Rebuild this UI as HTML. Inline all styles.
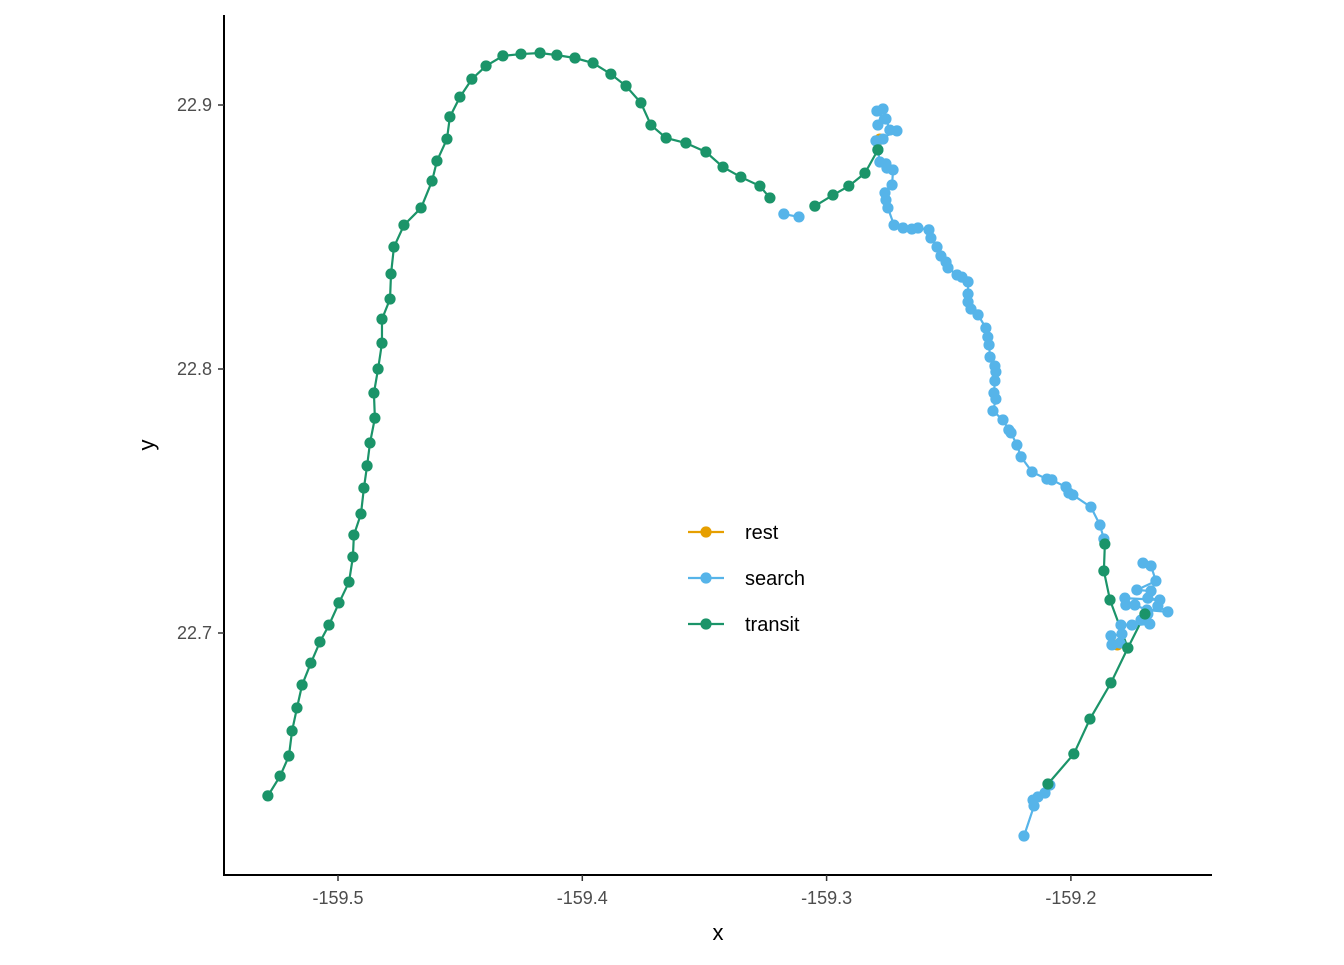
<!DOCTYPE html>
<html><head><meta charset="utf-8">
<style>
body{margin:0;background:#fff;}
svg text{font-family:"Liberation Sans",sans-serif;}
</style></head>
<body>
<svg id="chart" width="1344" height="960" viewBox="0 0 1344 960" xmlns="http://www.w3.org/2000/svg">
<rect width="1344" height="960" fill="#fff"/>
<g id="lines"></g><g id="points"></g>
<line x1="224" y1="15" x2="224" y2="876" stroke="#000" stroke-width="2"/>
<line x1="223" y1="875" x2="1212" y2="875" stroke="#000" stroke-width="2"/>
<g id="axes"></g>
<text x="718" y="940" font-size="22" text-anchor="middle">x</text>
<text x="0" y="0" font-size="22" text-anchor="middle" transform="translate(154,445) rotate(-90)">y</text>
<g id="legend"></g>
</svg>
<script>
const xTicks=[-159.5,-159.4,-159.3,-159.2];
const yTicks=[22.7,22.8,22.9];
const xTickLabels=["-159.5","-159.4","-159.3","-159.2"];
const yTickLabels=["22.7","22.8","22.9"];
const states=["rest","search","transit"];
const colors={rest:"#E69F00",search:"#56B4E9",transit:"#1b9469"};
const transitRuns=[
 [[-159.5287,22.6383],[-159.5237,22.6458],[-159.5201,22.6534],[-159.5188,22.6629],[-159.5168,22.6716],[-159.5147,22.6803],[-159.5111,22.6886],[-159.5074,22.6966],[-159.5037,22.7030],[-159.4996,22.7114],[-159.4955,22.7193],[-159.4939,22.7288],[-159.4935,22.7371],[-159.4906,22.7451],[-159.4894,22.7549],[-159.4881,22.7633],[-159.4869,22.7720],[-159.4849,22.7814],[-159.4853,22.7909],[-159.4836,22.8000],[-159.4820,22.8098],[-159.4820,22.8189],[-159.4787,22.8265],[-159.4783,22.8360],[-159.4771,22.8462],[-159.4730,22.8545],[-159.4660,22.8610],[-159.4615,22.8712],[-159.4595,22.8788],[-159.4554,22.8871],[-159.4542,22.8955],[-159.4501,22.9030],[-159.4452,22.9098],[-159.4394,22.9148],[-159.4325,22.9186],[-159.4251,22.9193],[-159.4173,22.9197],[-159.4104,22.9189],[-159.4030,22.9178],[-159.3956,22.9159],[-159.3883,22.9117],[-159.3821,22.9072],[-159.3760,22.9008],[-159.3719,22.8924],[-159.3657,22.8875],[-159.3576,22.8856],[-159.3494,22.8822],[-159.3424,22.8765],[-159.3351,22.8727],[-159.3273,22.8693],[-159.3232,22.8648]],
 [[-159.3048,22.8617],[-159.2974,22.8659],[-159.2909,22.8693],[-159.2843,22.8742],[-159.2790,22.8830]],
 [[-159.1861,22.7337],[-159.1865,22.7235],[-159.1840,22.7125],[-159.1767,22.6943]],
 [[-159.1697,22.7072],[-159.1767,22.6943],[-159.1836,22.6811],[-159.1922,22.6674],[-159.1988,22.6542],[-159.2094,22.6428]]
];
const searchRuns=[
 [[-159.3175,22.8587],[-159.3113,22.8576]],
 [[-159.2794,22.8977],[-159.2769,22.8985],[-159.2790,22.8924],[-159.2757,22.8947],[-159.2741,22.8905],[-159.2712,22.8902],[-159.2798,22.8864],[-159.2769,22.8871],[-159.2790,22.8830],[-159.2782,22.8784],[-159.2757,22.8777],[-159.2753,22.8761],[-159.2728,22.8754],[-159.2732,22.8697],[-159.2761,22.8667],[-159.2757,22.8640],[-159.2749,22.8610],[-159.2724,22.8545],[-159.2687,22.8534],[-159.2651,22.8530],[-159.2626,22.8534],[-159.2581,22.8527],[-159.2573,22.8496],[-159.2548,22.8462],[-159.2532,22.8428],[-159.2511,22.8405],[-159.2503,22.8383],[-159.2466,22.8356],[-159.2446,22.8348],[-159.2421,22.8330],[-159.2421,22.8284],[-159.2421,22.8254],[-159.2409,22.8227],[-159.2380,22.8205],[-159.2348,22.8155],[-159.2340,22.8121],[-159.2335,22.8091],[-159.2331,22.8045],[-159.2311,22.8011],[-159.2307,22.7989],[-159.2311,22.7955],[-159.2315,22.7909],[-159.2307,22.7886],[-159.2319,22.7841],[-159.2278,22.7807],[-159.2254,22.7769],[-159.2245,22.7758],[-159.2221,22.7712],[-159.2204,22.7667],[-159.2159,22.7610],[-159.2098,22.7583],[-159.2078,22.7580],[-159.2020,22.7553],[-159.2008,22.7530],[-159.1992,22.7523],[-159.1918,22.7477],[-159.1881,22.7409],[-159.1865,22.7356]],
 [[-159.1705,22.7265],[-159.1672,22.7254],[-159.1652,22.7197],[-159.1730,22.7163],[-159.1672,22.7159],[-159.1685,22.7132],[-159.1636,22.7125],[-159.1779,22.7132],[-159.1775,22.7106],[-159.1738,22.7106],[-159.1689,22.7087],[-159.1603,22.7080],[-159.1644,22.7102],[-159.1685,22.7072],[-159.1713,22.7049],[-159.1677,22.7034],[-159.1750,22.7030],[-159.1795,22.7030],[-159.1791,22.6996],[-159.1836,22.6989],[-159.1832,22.6955],[-159.1799,22.6962]],
 [[-159.2086,22.6424],[-159.2106,22.6394],[-159.2135,22.6379],[-159.2155,22.6367],[-159.2151,22.6345],[-159.2192,22.6231]]
];
const restPoints=[[-159.2782,22.8871],[-159.1810,22.6955]];

const NS="http://www.w3.org/2000/svg";
function sx(v){return 338+(v+159.5)*2443;}
function sy(v){return 105+(22.9-v)*2640;}
const L=document.getElementById('lines'),P=document.getElementById('points'),A=document.getElementById('axes'),G=document.getElementById('legend');
function mk(t,a,p){const e=document.createElementNS(NS,t);for(const k in a)e.setAttribute(k,a[k]);p.appendChild(e);return e;}
function drawRuns(runs,st){
 runs.forEach(r=>{
  const e=mk('polyline',{points:r.map(d=>sx(d[0])+','+sy(d[1])).join(' '),fill:'none',stroke:colors[st],'stroke-width':2.2},L);
  
  
 });
}
function drawPts(pts,st){
 pts.forEach(d=>{
  const c=mk('circle',{cx:sx(d[0]),cy:sy(d[1]),r:5.6,fill:colors[st]},P);
  
  
 });
}
drawRuns(searchRuns,'search');drawRuns(transitRuns,'transit');
drawPts(restPoints,'rest');
searchRuns.forEach(r=>drawPts(r,'search'));
transitRuns.forEach(r=>drawPts(r,'transit'));
xTicks.forEach((v,i)=>{
 const t=mk('line',{x1:sx(v),x2:sx(v),y1:875,y2:881,stroke:'#333','stroke-width':1.5},A);
 
 
 const tx=mk('text',{x:sx(v),y:904,'font-size':18,'text-anchor':'middle',fill:'#4d4d4d'},A);
 tx.textContent=xTickLabels[i];
 
 
});
yTicks.forEach((v,i)=>{
 const t=mk('line',{x1:218,x2:224,y1:sy(v),y2:sy(v),stroke:'#333','stroke-width':1.5},A);
 
 
 const tx=mk('text',{x:212,y:sy(v)+6,'font-size':18,'text-anchor':'end',fill:'#4d4d4d'},A);
 tx.textContent=yTickLabels[i];
 
 
});
states.forEach((s,i)=>{
 const y=532+i*46;
 const g=mk('g',{},G);
 
 
 mk('line',{x1:688,x2:724,y1:y,y2:y,stroke:colors[s],'stroke-width':2.2},g);
 mk('circle',{cx:706,cy:y,r:5.6,fill:colors[s]},g);
 const t=mk('text',{x:745,y:y+7,'font-size':20,fill:'#000'},g);
 t.textContent=s;
});
</script>
</body></html>
